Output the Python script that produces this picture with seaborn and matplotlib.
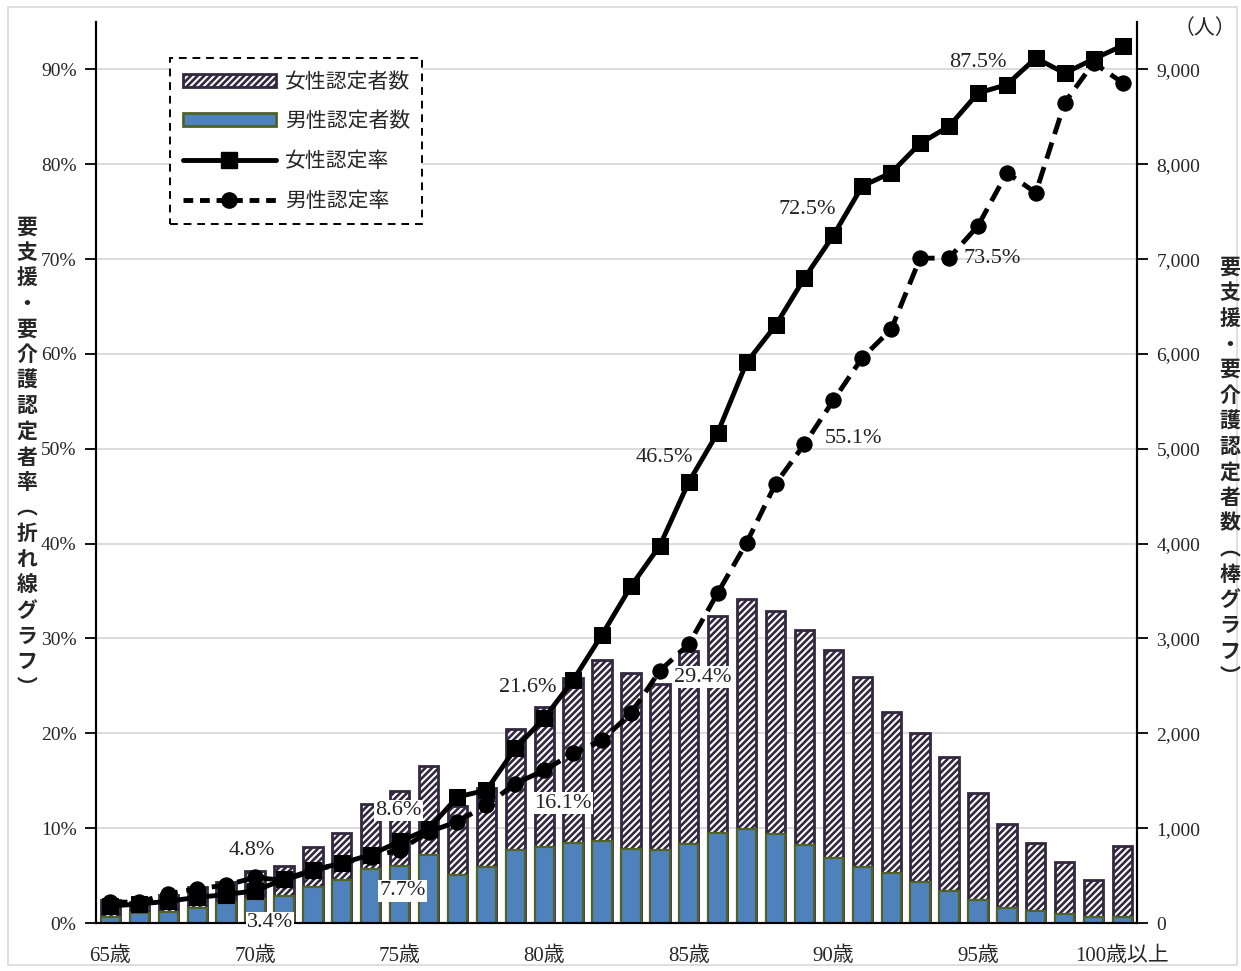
import numpy as np
import pandas as pd
import matplotlib
matplotlib.use("Agg")
import matplotlib.pyplot as plt
import seaborn as sns
from matplotlib.patches import Patch, Rectangle
from matplotlib.lines import Line2D

# ---------------- data ----------------
ages = [f"{a}歳" for a in range(65, 100)] + ["100歳以上"]
tick_labels = ["65歳", "70歳", "75歳", "80歳", "85歳", "90歳", "95歳", "100歳以上"]

total_count = [243, 225, 300, 383, 436, 552, 605, 805, 953, 1255, 1396, 1656,
               1230, 1420, 2046, 2282, 2581, 2774, 2634, 2518, 2873, 3238, 3415, 3291,
               3091, 2880, 2591, 2229, 2008, 1755, 1368, 1044, 847, 640, 454, 812]
male_count = [66, 102, 120, 155, 208, 253, 288, 383, 454, 566, 601, 717,
              506, 594, 770, 798, 847, 865, 784, 770, 830, 953, 988, 935,
              823, 689, 587, 531, 436, 341, 243, 155, 127, 95, 60, 66]
female_count = [t - m for t, m in zip(total_count, male_count)]

female_rate = [1.8, 2.0, 2.3, 2.7, 3.0, 3.4, 4.6, 5.6, 6.3, 7.2, 8.6, 9.9,
               13.3, 14.0, 18.4, 21.6, 25.6, 30.4, 35.5, 39.8, 46.5, 51.7, 59.1, 63.0,
               68.0, 72.5, 77.7, 79.1, 82.2, 84.0, 87.5, 88.4, 91.2, 89.6, 91.1, 92.5]
male_rate = [2.2, 2.2, 3.1, 3.6, 4.0, 4.8, 4.5, 5.5, 6.3, 7.0, 7.7, 9.6,
             10.7, 12.4, 14.7, 16.1, 17.9, 19.3, 22.1, 26.6, 29.4, 34.8, 40.1, 46.3,
             50.5, 55.1, 59.6, 62.6, 70.1, 70.1, 73.5, 79.1, 77.0, 86.5, 90.7, 88.6]

labels_f = {5: "3.4%", 10: "8.6%", 15: "21.6%", 20: "46.5%", 25: "72.5%", 30: "87.5%"}
labels_m = {5: "4.8%", 10: "7.7%", 15: "16.1%", 20: "29.4%", 25: "55.1%", 30: "73.5%"}

df = pd.DataFrame({"age": ages, "total": total_count, "male": male_count,
                   "female": female_count})

# ---------------- style ----------------
sns.set_theme(style="white")
plt.rcParams["font.family"] = ["Liberation Serif", "Noto Sans CJK JP", "DejaVu Sans"]
plt.rcParams["hatch.linewidth"] = 1.9
plt.rcParams["hatch.color"] = "black"

W, H = 1241, 971
fig = plt.figure(figsize=(W / 100, H / 100), dpi=100)
x0, x1 = 96, 1137
y_top, y_bot = 22, 923
ax = fig.add_axes([x0 / W, 1 - y_bot / H, (x1 - x0) / W, (y_bot - y_top) / H])

# bars (count axis, shown on right)
sns.barplot(data=df, x="age", y="total", color="white", edgecolor="#32283F",
            linewidth=2, hatch="/////", width=0.67, errorbar=None, saturation=1,
            ax=ax, zorder=2)
sns.barplot(data=df, x="age", y="male", color="#4F81BD", edgecolor="#4F6228",
            linewidth=1.6, width=0.67, errorbar=None, saturation=1, ax=ax, zorder=3)

ax.set_xlim(-0.5, len(ages) - 0.5)
ax.set_ylim(0, 9500)
ax.yaxis.grid(True, color="#D9D9D9", linewidth=1.3)
ax.set_axisbelow(True)
ax.set_xlabel("")
ax.set_ylabel("")
tick_pos = [ages.index(t) for t in tick_labels]
ax.set_xticks(tick_pos)
ax.set_xticklabels(tick_labels, fontsize=15)
ax.tick_params(axis="x", length=0, pad=17)

# lines (rate axis, shown on left)
ax2 = ax.twinx()
xpos = np.arange(len(ages))
sns.lineplot(x=xpos, y=female_rate, color="black", linewidth=3.5, marker="s",
             markersize=12, markeredgecolor="black", ax=ax2, zorder=5)
sns.lineplot(x=xpos, y=male_rate, color="black", linewidth=3.5, marker="o",
             markersize=11, markeredgecolor="black", linestyle=(0, (3.5, 1.8)),
             ax=ax2, zorder=5)
ax2.set_ylim(0, 95)
ax2.set_xlim(-0.5, len(ages) - 0.5)

# move count ticks to the right, rate ticks to the left (after twinx)
ax.yaxis.tick_right()
ax.set_yticks(np.arange(0, 9001, 1000))
ax.set_yticklabels([f"{v:,}" for v in range(0, 9001, 1000)], fontsize=14)
ax.tick_params(axis="y", direction="out", length=8, width=1.3, color="black",
               right=True, left=False, labelright=True, labelleft=False, pad=6)

ax2.yaxis.tick_left()
ax2.set_yticks(np.arange(0, 91, 10))
ax2.set_yticklabels([f"{v}%" for v in range(0, 91, 10)], fontsize=14)
ax2.tick_params(axis="y", direction="out", length=8, width=1.3, color="black",
                left=True, right=False, labelleft=True, labelright=False, pad=6)

for a in (ax, ax2):
    a.spines["top"].set_visible(False)
    for s in ("left", "right", "bottom"):
        a.spines[s].set_color("black")
        a.spines[s].set_linewidth(1.5)

# data labels
off_f = {5: (15, -32), 10: (-1, 31), 15: (-16, 31), 20: (-24, 24), 25: (-26, 26), 30: (0, 31)}
off_m = {5: (-3, 27), 10: (3, -41), 15: (19, -33), 20: (14, -33), 25: (20, -38), 30: (14, -33)}
bg_f = {5, 10}
bg_m = {10, 15, 20}
for i, txt in labels_f.items():
    ax2.annotate(txt, (i, female_rate[i]), xytext=off_f[i], textcoords="offset pixels",
                 ha="center", va="center", fontsize=16, color="#222222", zorder=6,
                 bbox=dict(fc="white", ec="none", pad=1) if i in bg_f else None)
for i, txt in labels_m.items():
    ax2.annotate(txt, (i, male_rate[i]), xytext=off_m[i], textcoords="offset pixels",
                 ha="center", va="center", fontsize=16, color="#222222", zorder=6,
                 bbox=dict(fc="white", ec="none", pad=1) if i in bg_m else None)

# legend
handles = [
    Patch(facecolor="white", edgecolor="#32283F", hatch="/////", linewidth=2),
    Patch(facecolor="#4F81BD", edgecolor="#4F6228", linewidth=2),
    Line2D([], [], color="black", linewidth=3.5, marker="s", markersize=12),
    Line2D([], [], color="black", linewidth=3.5, marker="o", markersize=11,
           linestyle=(0, (2, 1.4))),
]
leg_labels = ["女性認定者数", "男性認定者数", "女性認定率", "男性認定率"]
leg = ax2.legend(handles, leg_labels, loc="upper left",
                 bbox_to_anchor=(170 / W, 1 - 58 / H), bbox_transform=fig.transFigure,
                 borderaxespad=0, fancybox=False, framealpha=1, handlelength=4.5,
                 handleheight=0.6, labelspacing=0.85, handletextpad=0.4,
                 borderpad=0.6, prop={"family": "Noto Sans CJK JP", "size": 15})
leg.get_frame().set_edgecolor("black")
leg.get_frame().set_linestyle((0, (4, 3)))
leg.get_frame().set_linewidth(1.4)

# axis titles (vertical)
left_title = "要支援・要介護認定者率︵折れ線グラフ︶"
right_title = "要支援・要介護認定者数︵棒グラフ︶"
fig.text(27 / W, 1 - 457 / H, "\n".join(left_title), ha="center", va="center",
         fontsize=15, fontweight="bold", linespacing=1.27,
         family=["Noto Sans CJK JP"])
fig.text(1230 / W, 1 - 472 / H, "\n".join(right_title), ha="center", va="center",
         fontsize=15, fontweight="bold", linespacing=1.27,
         family=["Noto Sans CJK JP"])
fig.text(1205 / W, 1 - 28 / H, "（人）", ha="center", va="center", fontsize=15,
         family=["Noto Sans CJK JP"])

# outer border
fig.patches.append(Rectangle((8 / W, 6 / H), 1229 / W, 958 / H, transform=fig.transFigure,
                             fill=False, edgecolor="#D9D9D9", linewidth=1.2))

fig.savefig("out.png", dpi=100)
